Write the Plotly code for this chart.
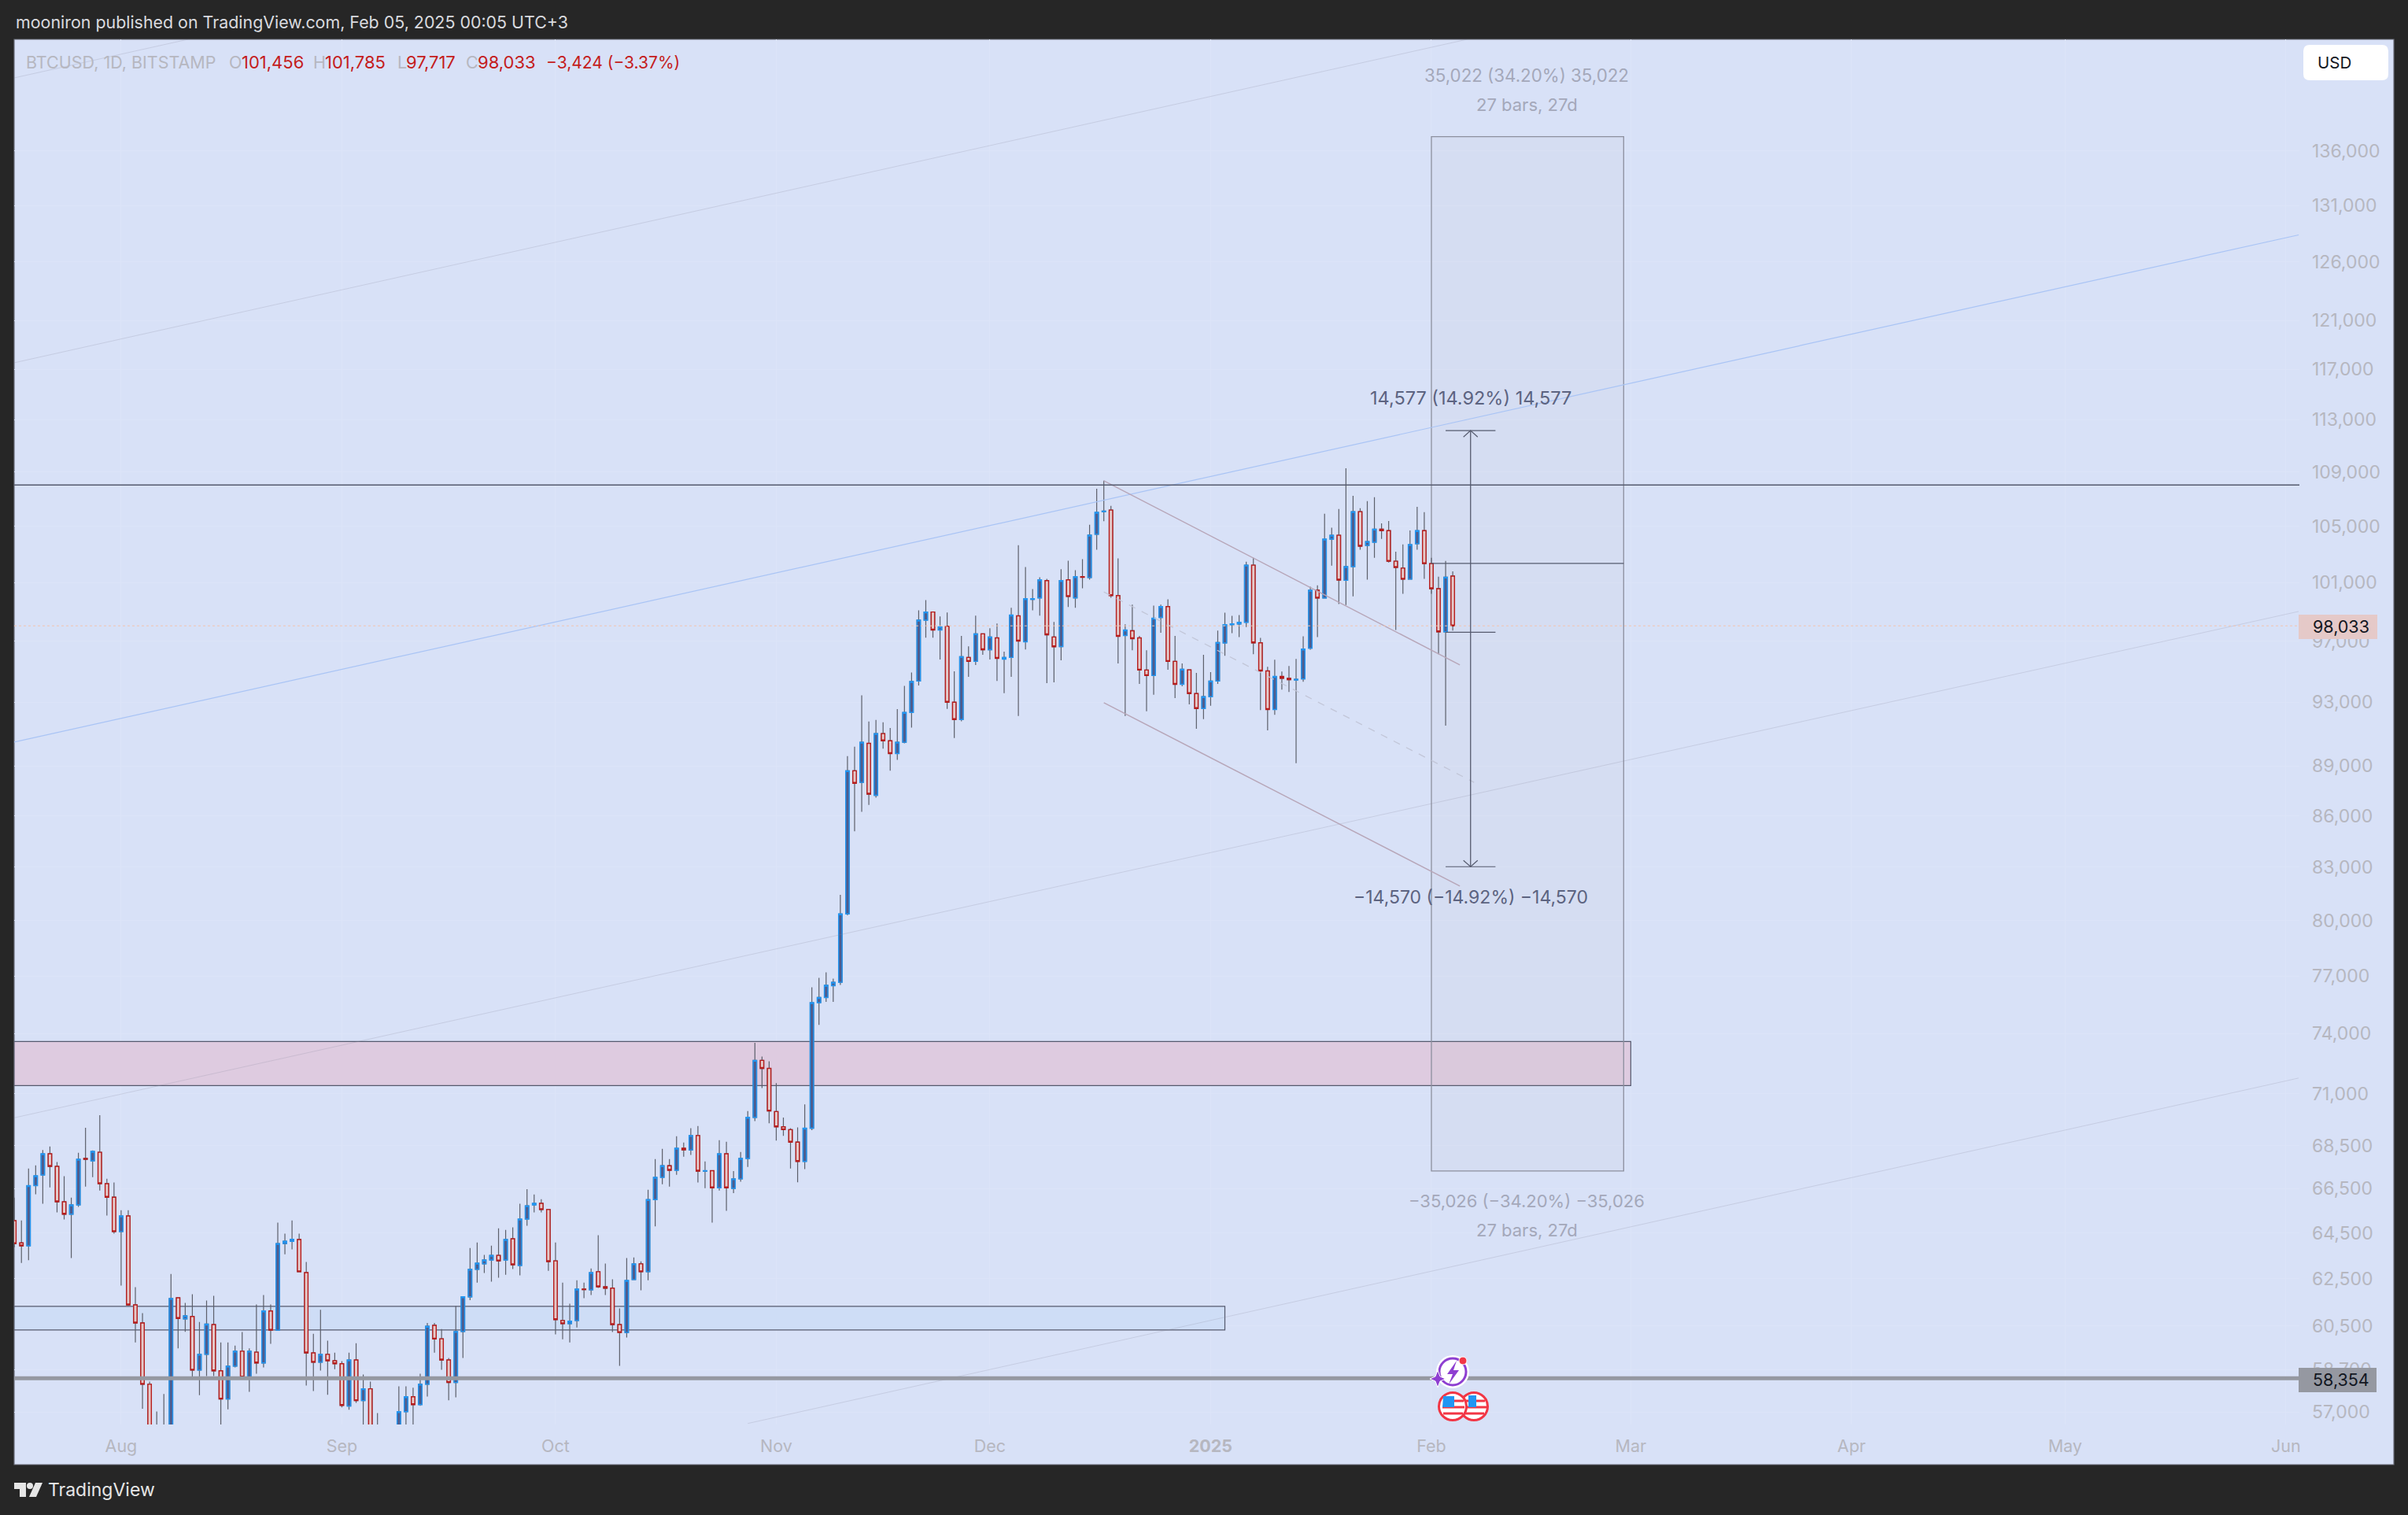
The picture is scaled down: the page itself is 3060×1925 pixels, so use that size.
import pandas as pd
import plotly.graph_objects as go

# ---------- daily OHLC, 17 Jul 2024 - 4 Feb 2025 ----------
opens = [
 65050,64060,63930,66640,67130,68120,67530,65900,65340,65760,67900,67790,68190,66730,66110,
 64560,65260,61380,60620,58110,53950,55100,54900,61680,60790,60890,58680,59320,60550,58650,57520,58840,59450,58400,59410,58970,61120,60320,64030,64130,64210,62760,59380,59000,59320,59060,
 58940,57240,59090,57460,57930,56150,53950,54150,54850,57020,57610,57300,58110,60520,59960,59090,58180,60260,61720,62900,63140,63310,63510,63310,64240,63070,65120,65760,65830,65550,
 63270,60720,60590,60720,62050,62020,62800,62150,62090,60550,60220,62460,63140,62800,66000,67020,67560,67350,68380,68300,68980,67310,67330,66540,68120,66510,66950,67900,69850,72650,72250,
 70130,69400,69260,68670,67760,69330,75600,75870,76490,76670,80370,88710,88000,90400,87220,91010,90560,89770,90470,92350,94370,98420,98970,97750,98010,93000,91900,95920,95660,97490,
 96430,97220,95810,95920,98710,96960,99840,99940,101140,97280,96640,101190,99940,101410,101350,104420,106060,106180,100100,97380,97700,97220,95090,94730,98600,99340,95660,94160,95100,93560,92600,
 93360,94370,96880,98110,98160,98270,102220,96890,95030,92540,94670,94550,94440,94510,96530,100470,99930,104070,104350,101160,102120,106060,103620,103850,104790,104680,102500,102010,101240,103740,104680,
 102330,100580,97630,101456]
highs = [
 66090,65060,67430,67580,68300,68460,67730,67070,66090,68170,69350,68280,69960,66960,66780,
 65520,65520,62130,61030,58220,57030,57720,62700,61700,61460,61830,60660,61560,61760,59810,59810,59680,60240,59570,61400,61800,61400,64960,64470,65060,64470,63220,60170,61170,59880,59390,
 59040,59390,59780,58500,58220,56970,54800,55250,58030,58030,57970,58530,60620,60620,60360,59170,61330,61750,63830,64080,63530,63940,64710,64640,64750,65810,66480,66230,66020,65580,
 64080,62330,61430,62430,62330,62940,64400,63150,62470,61230,63390,63420,63250,66450,67870,68350,67870,68950,68650,69330,69440,67760,67350,68760,68690,67310,68200,70160,73540,72840,72610,
 71520,69840,69330,69370,70480,76410,76900,77200,76860,81440,89610,90190,93440,91780,91870,91730,91370,92560,94050,94930,99080,99790,99000,98670,98940,95000,97350,96660,98720,97500,
 97870,98190,96300,99260,103640,102090,100550,101370,101260,98300,101930,102530,101870,102640,105110,107750,108350,106490,102700,98140,99470,97350,96400,99410,99470,99840,97350,95520,95100,94900,96090,
 94950,97710,98920,98710,98760,102460,102740,97220,95300,95770,94990,95350,95820,97330,100710,100810,105910,104890,106250,109290,107230,106310,106830,107120,105210,105380,103180,103700,104700,106420,106020,
 102740,101410,102520,101785]
lows = [
 63870,63180,63300,66240,65810,66560,65420,65100,63390,65670,66590,67030,66410,65280,64470,
 62200,61340,59810,57140,49200,53850,54600,54600,59570,60250,58370,57670,58440,58440,56200,57110,58790,58380,57810,58530,58790,59750,60300,63560,63770,62780,58060,57840,58660,57690,58720,
 57190,57100,57370,55700,55700,52700,53750,53650,54600,56000,55600,57250,57620,59390,58690,57470,57590,59170,61580,62330,62740,62370,62540,62670,62910,62640,64820,65420,65420,62840,
 60140,59940,59810,60430,61660,61800,62100,61800,60240,58850,60010,62440,62000,62430,64790,66700,66590,67140,67980,68060,66780,66520,64960,66410,65490,66300,66820,67500,69670,71280,69570,
 68740,68970,67430,66790,67400,69240,74450,75640,75640,76530,80290,85080,86230,86650,87080,90070,88710,89380,90400,91390,94080,97230,97230,95780,92570,90740,91790,94640,95420,96090,
 95780,94380,93580,94640,92130,96450,99090,98720,94230,94280,95730,99310,99260,100600,101210,103310,105360,99950,95520,92130,96400,94180,92420,93480,97560,95110,93270,94030,92870,91320,91920,
 92770,94180,96030,97540,97280,97950,96130,92500,91220,92200,93810,93660,89170,94330,96440,97280,99900,102190,99520,99450,100050,103310,101200,102740,104090,102410,97750,100220,101200,103310,101260,
 100220,96130,91510,97717]
closes = [
 64030,63930,66640,67090,68120,67530,65900,65340,65760,67860,67860,68230,66730,66110,64560,
 65260,61380,60620,58110,53950,55100,54900,61650,60810,60920,58680,59320,60570,58650,57520,58840,59450,58400,59450,58970,61120,60320,64030,64130,64220,62800,59380,59000,59320,59060,58940,
 57270,59090,57460,57930,56150,53950,54150,54850,57020,57610,57300,58110,60480,59950,59090,58180,60260,61720,62900,63170,63310,63510,63270,64210,63100,65120,65720,65830,65550,63240,
 60760,60590,60690,62050,62030,62760,62150,62090,60550,60220,62420,63140,62800,66000,67020,67560,67350,68380,68300,68980,67310,67330,66540,68120,66540,66950,67900,69850,72650,72250,70160,
 69400,69260,68670,67760,69330,75600,75870,76510,76670,80370,88710,87950,90470,87290,91010,90560,89770,90470,92350,94340,98420,98970,97750,97960,93000,91900,95970,95660,97490,96430,
 97280,95860,95920,98760,97010,99880,99880,101190,97430,96630,101140,100040,101410,101370,104360,106010,106100,100100,97330,97750,97170,95090,94730,98550,99340,95660,94160,95140,93560,92600,93360,
 94370,96910,98110,98160,98270,102220,96890,95030,92540,94670,94550,94460,94480,96470,100470,99930,104070,104350,101180,102120,106060,103570,103900,104790,104680,102500,102060,101240,103680,104680,102330,
 100580,97630,101380,98033]
dates = list(pd.date_range("2024-07-17", "2025-02-04", freq="D"))
assert len(dates) == len(opens) == len(highs) == len(lows) == len(closes), (len(dates), len(opens), len(highs), len(lows), len(closes))

price_ticks = [136000,131000,126000,121000,117000,113000,109000,105000,101000,97000,93000,89000,86000,83000,80000,77000,74000,71000,68500,66500,64500,62500,60500,58700,57000]
month_ticks = ["2024-08-01","2024-09-01","2024-10-01","2024-11-01","2024-12-01","2025-01-01","2025-02-01","2025-03-01","2025-04-01","2025-05-01","2025-06-01"]
month_labels = ["Aug","Sep","Oct","Nov","Dec","<b>2025</b>","Feb","Mar","Apr","May","Jun"]

last_price = 98033
support = 58354
resistance = 108030
measure_mid = 102340
measure_low = 97600
measure_high = 112160
measure_stop = 83030
box_top = 137362
box_bottom = 67314

BG = "#D8E1F7"
INK = "#555A6E"
TXT = "#B6B7C0"
FONT = "Inter, Roboto, sans-serif"

def X(p): return (p - 18) / 2904
def Y(p): return (1810 - p) / 1760

fig = go.Figure()

# wicks (grey), bodies on top (blue / red)
fig.add_trace(go.Candlestick(x=dates, open=opens, high=highs, low=lows, close=closes, name="wick",
    increasing=dict(line=dict(color="#5D606B", width=1.2), fillcolor="#5D606B"),
    decreasing=dict(line=dict(color="#5D606B", width=1.2), fillcolor="#5D606B"),
    whiskerwidth=0, hoverinfo="skip", showlegend=False))
fig.add_trace(go.Candlestick(x=dates, open=opens, close=closes,
    high=[max(o, c) for o, c in zip(opens, closes)], low=[min(o, c) for o, c in zip(opens, closes)],
    name="BTCUSD",
    increasing=dict(line=dict(color="#2196F3", width=1.4), fillcolor="#4E5B8C"),
    decreasing=dict(line=dict(color="#B71C1C", width=1.4), fillcolor="#E4CACA"),
    whiskerwidth=0, showlegend=False))

def seg(xs, ys, color, width=1.2, dash="solid"):
    fig.add_trace(go.Scatter(x=xs, y=ys, mode="lines", line=dict(color=color, width=width, dash=dash),
                             hoverinfo="skip", showlegend=False))

LEFT, RIGHT = "2024-07-16 23:30", "2025-06-02 21:30"
FAINT = "rgba(140,140,160,0.24)"
# rising channel lines
seg([LEFT, "2024-09-05 19:00"], [143040, 151180], FAINT, 1)
seg([LEFT, "2025-02-06"], [117530, 146890], FAINT, 1)
seg([LEFT, "2025-06-02 19:00"], [69830, 99010], FAINT, 1)
seg(["2024-10-28", "2025-06-02 19:00"], [56560, 71770], FAINT, 1)
seg([LEFT, "2025-06-02 19:00"], [90480, 128360], "#A9C4F5", 1.2)
# falling channel
seg(["2024-12-17", "2025-02-05"], [108350, 95430], "#B7A6B8", 1.4)
seg(["2024-12-17", "2025-02-05"], [92970, 81930], "#B7A6B8", 1.4)
seg(["2024-12-17", "2025-02-07"], [100350, 88000], "#C2C6D8", 1.3, "dash")
# horizontals
seg([LEFT, RIGHT], [last_price, last_price], "#F2C4AE", 1, "dot")
seg([LEFT, RIGHT], [resistance, resistance], INK, 1.3)
seg([LEFT, RIGHT], [support, support], "#9598A1", 5)
# measure tool
seg(["2025-02-01", "2025-02-28"], [measure_mid, measure_mid], INK, 1.3)
seg(["2025-02-03", "2025-02-10"], [measure_low, measure_low], INK, 1.2)
seg(["2025-02-03", "2025-02-10"], [measure_high, measure_high], INK, 1.2)
seg(["2025-02-03", "2025-02-10"], [measure_stop, measure_stop], INK, 1.2)
seg(["2025-02-06 12:00", "2025-02-06 12:00"], [measure_high, measure_stop], INK, 1.3)
seg(["2025-02-05 12:00", "2025-02-06 12:00", "2025-02-07 12:00"], [111670, measure_high, 111670], INK, 1.2)
seg(["2025-02-05 12:00", "2025-02-06 12:00", "2025-02-07 12:00"], [83390, measure_stop, 83390], INK, 1.2)

def poly(pts, fill="rgba(0,0,0,0)", line=None, w=0, layer="above"):
    path = "M " + " L ".join(f"{X(a):.5f},{Y(b):.5f}" for a, b in pts) + " Z"
    return dict(type="path", xref="paper", yref="paper", path=path, fillcolor=fill,
                line=dict(color=line or "rgba(0,0,0,0)", width=w), layer=layer)

def rrect(x0, y0, x1, y1, r, fill):
    p = (f"M {X(x0+r):.5f},{Y(y0):.5f} L {X(x1-r):.5f},{Y(y0):.5f} Q {X(x1):.5f},{Y(y0):.5f} {X(x1):.5f},{Y(y0+r):.5f} "
         f"L {X(x1):.5f},{Y(y1-r):.5f} Q {X(x1):.5f},{Y(y1):.5f} {X(x1-r):.5f},{Y(y1):.5f} "
         f"L {X(x0+r):.5f},{Y(y1):.5f} Q {X(x0):.5f},{Y(y1):.5f} {X(x0):.5f},{Y(y1-r):.5f} "
         f"L {X(x0):.5f},{Y(y0+r):.5f} Q {X(x0):.5f},{Y(y0):.5f} {X(x0+r):.5f},{Y(y0):.5f} Z")
    return dict(type="path", xref="paper", yref="paper", path=p, fillcolor=fill, line=dict(width=0), layer="above")

def circle(cx, cy, r, fill, line, w, layer="above"):
    return dict(type="circle", xref="paper", yref="paper", x0=X(cx-r), x1=X(cx+r), y0=Y(cy+r), y1=Y(cy-r),
                fillcolor=fill, line=dict(color=line, width=w), layer=layer)

def hline(x0, x1, y, color, w):
    return dict(type="line", xref="paper", yref="paper", x0=X(x0), x1=X(x1), y0=Y(y), y1=Y(y),
                line=dict(color=color, width=w), layer="above")

shapes = [
    # panel
    dict(type="rect", xref="paper", yref="paper", x0=X(18), x1=X(3042), y0=Y(1861), y1=Y(50),
         fillcolor=BG, line=dict(color="#6A6D78", width=1.2), layer="below"),
    # zones (above the grid, under the candles)
    dict(type="rect", xref="x", yref="y", x0=LEFT, x1="2025-03-01", y0=71400, y1=73600,
         fillcolor="#DECBE0", line=dict(color=INK, width=1.2), layer="between"),
    dict(type="rect", xref="x", yref="y", x0=LEFT, x1="2025-01-03", y0=60330, y1=61320,
         fillcolor="#CEDDF6", line=dict(color=INK, width=1.2), layer="between"),
    dict(type="rect", xref="x", yref="y", x0="2025-02-01", x1="2025-02-28", y0=box_bottom, y1=box_top,
         fillcolor="rgba(170,170,170,0.06)", line=dict(color="#8C8F9E", width=1.3), layer="between"),
    # price tags
    dict(type="rect", xref="paper", yref="paper", x0=X(2921), x1=X(3021), y0=Y(812), y1=Y(781),
         fillcolor="#E5C9C8", line=dict(width=0), layer="above"),
    dict(type="rect", xref="paper", yref="paper", x0=X(2921), x1=X(3020), y0=Y(1769), y1=Y(1738),
         fillcolor="#9598A1", line=dict(width=0), layer="above"),
    rrect(2927, 57, 3035, 102, 8, "#FFFFFF"),
    # TradingView logo
    poly([(18,1884),(33,1884),(33,1902),(25,1902),(25,1892),(18,1892)], "#E6E6E6"),
    circle(38, 1888, 4, "#E6E6E6", "#E6E6E6", 0),
    poly([(45,1884),(54,1884),(46,1902),(37,1902)], "#E6E6E6"),
    # US calendar icons
    circle(1873, 1787, 17.5, "#FFFFFF", "#F23645", 3),
    hline(1862, 1887, 1780, "#F23645", 3), hline(1860, 1889, 1788, "#F23645", 3), hline(1862, 1886, 1796, "#F23645", 3),
    poly([(1866,1773),(1876,1773),(1876,1788),(1866,1788)], "#2196F3"),
    circle(1846, 1787, 17.5, "#FFFFFF", "#F23645", 3),
    hline(1836, 1860, 1780, "#F23645", 3), hline(1833, 1861, 1788, "#F23645", 3), hline(1834, 1859, 1796, "#F23645", 3),
    poly([(1834,1774),(1848,1774),(1848,1788),(1833,1788)], "#2196F3"),
    # earnings / spark icon
    circle(1846, 1743, 20, "#FFFFFF", "#FFFFFF", 2),
    circle(1846, 1743, 17, "rgba(0,0,0,0)", "#8E3FD1", 3),
    poly([(1851,1729),(1839,1746),(1846,1746),(1841,1759),(1854,1741),(1847,1741)], "#8E3FD1"),
    poly([(1827,1741),(1830,1749),(1837,1752),(1830,1755),(1827,1763),(1824,1755),(1817,1752),(1824,1749)], "#8E3FD1", "#FFFFFF", 1),
    circle(1859, 1729, 5, "#F23645", "#FFFFFF", 1),
]

def note(px, py, text, color=TXT, size=20, anchor="center"):
    return dict(xref="paper", yref="paper", x=X(px), y=Y(py), text=text, showarrow=False, xanchor=anchor,
                yanchor="middle", font=dict(family=FONT, size=size, color=color))

RED = "#C41C1C"
GR2 = "#A4A8BA"
DK = "#5C6380"
annots = [
    note(18, 28, "mooniron published on TradingView.com, Feb 05, 2025 00:05 UTC+3", "#D9DADF", 21.4, "left"),
    note(31, 79, "BTCUSD, 1D, BITSTAMP", TXT, 21.5, "left"),
    note(289, 79, "O", TXT, 21.5, "left"), note(305, 79, "101,456", RED, 22, "left"),
    note(396, 79, "H", TXT, 21.5, "left"), note(411, 79, "101,785", RED, 22, "left"),
    note(503, 79, "L", TXT, 21.5, "left"), note(514, 79, "97,717", RED, 22, "left"),
    note(590, 79, "C", TXT, 21.5, "left"), note(605, 79, "98,033", RED, 22, "left"),
    note(692, 79, "\u22123,424 (\u22123.37%)", RED, 21, "left"),
    note(2943, 79, "USD", "#131722", 20.5, "left"),
    note(2937, 796, "98,033", "#131722", 21.5, "left"),
    note(2937, 1753, "58,354", "#131722", 21.5, "left"),
    note(1940, 96, "35,022 (34.20%) 35,022", GR2, 22.3),
    note(1940, 133, "27 bars, 27d", GR2, 22),
    note(1869, 505, "14,577 (14.92%) 14,577", DK, 23.5),
    note(1869, 1140, "\u221214,570 (\u221214.92%) \u221214,570", DK, 23),
    note(1940, 1526, "\u221235,026 (\u221234.20%) \u221235,026", GR2, 22),
    note(1940, 1563, "27 bars, 27d", GR2, 22),
    note(59, 1893, "TradingView", "#E6E6E6", 23, "left"),
]

fig.update_layout(
    width=3060, height=1925, autosize=False,
    margin=dict(l=18, r=138, t=50, b=115, pad=0),
    paper_bgcolor="#262626", plot_bgcolor="rgba(0,0,0,0)",
    showlegend=False, shapes=shapes, annotations=annots, hovermode=False,
    font=dict(family=FONT),
    xaxis=dict(type="date", range=[LEFT, RIGHT], rangeslider=dict(visible=False),
               tickmode="array", tickvals=month_ticks, ticktext=month_labels,
               tickfont=dict(family=FONT, size=21.5, color=TXT), ticks="", ticklabelstandoff=12,
               showgrid=True, gridcolor="#DCE4F8", gridwidth=1, zeroline=False, showline=False),
    yaxis=dict(type="log", range=[4.75220, 5.16700], side="right",
               tickmode="array", tickvals=price_ticks, ticktext=[f"{v:,}" for v in price_ticks],
               tickfont=dict(family=FONT, size=23, color=TXT), ticks="", ticklabelstandoff=15,
               showgrid=True, gridcolor="#DCE4F8", gridwidth=1, zeroline=False, showline=False),
)

fig.write_html("out.html", config=dict(displayModeBar=False),
               post_script="document.body.style.margin='0';document.body.style.background='#262626';")
